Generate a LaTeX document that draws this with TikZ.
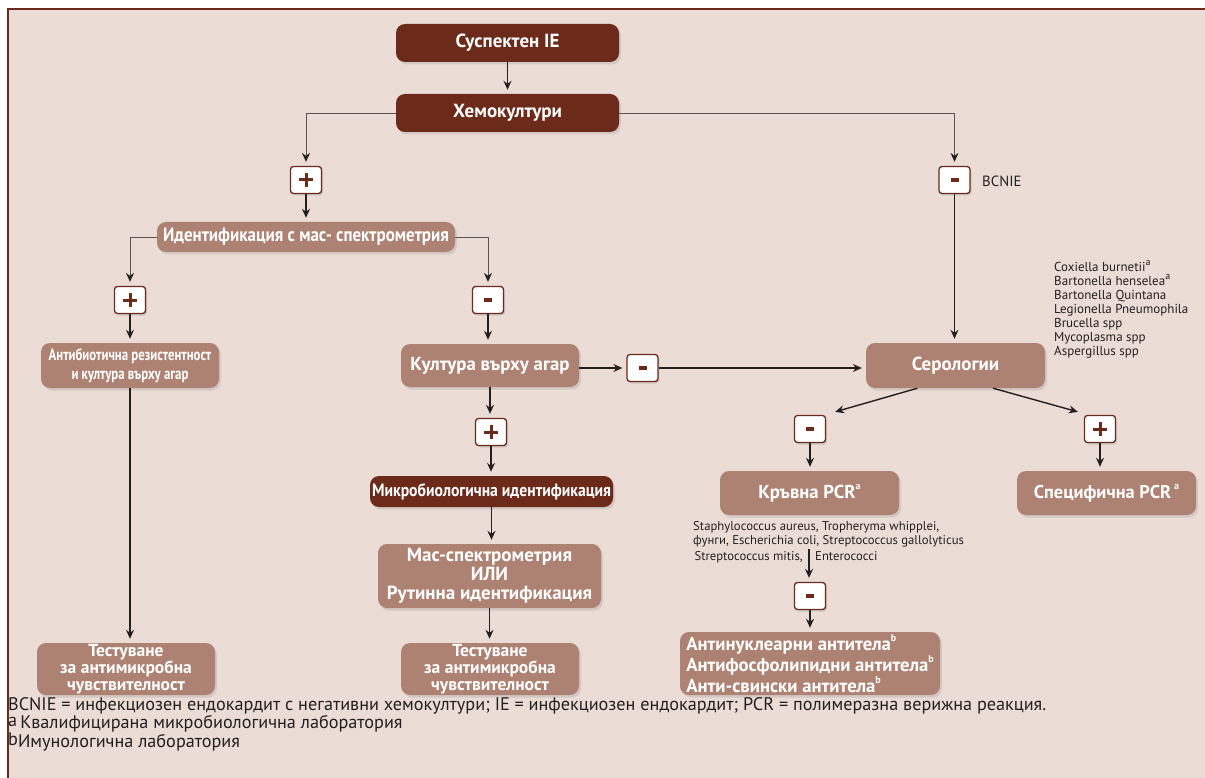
\documentclass[tikz,border=0pt]{standalone}
\usepackage{fontspec}
\setmainfont{PT Sans}
\newfontfamily\cnd[FakeStretch=0.78]{PT Sans}
\newfontfamily\cndb[FakeStretch=0.88]{PT Sans}
\usetikzlibrary{arrows.meta,shadows,calc}
\definecolor{dk}{HTML}{6B2A1A}
\definecolor{lt}{HTML}{AE8272}
\definecolor{bg}{HTML}{EBDDD6}
\definecolor{ink}{HTML}{231F20}
\definecolor{gr}{HTML}{555555}
\newcommand{\upx}[1]{\raisebox{0.5em}{\fontsize{10}{10}\selectfont #1}}
\begin{document}
\begin{tikzpicture}[x=1pt,y=-1pt,
 box/.style={rounded corners=9pt, text=white, align=center, inner sep=0pt,
   drop shadow={shadow xshift=2pt,shadow yshift=-2.5pt,opacity=0.22}},
 dkbox/.style={box, fill=dk},
 ltbox/.style={box, fill=lt},
 sgn/.style={draw=dk, fill=white, line width=1.3pt, rounded corners=3pt,
   minimum width=31pt, minimum height=27pt, inner sep=0pt,
   drop shadow={shadow xshift=1.5pt,shadow yshift=-2pt,opacity=0.25}},
 plusg/.style={sgn, path picture={
   \draw[dk,line width=3pt,sharp corners] ($(path picture bounding box.center)+(-7,0)$) -- ($(path picture bounding box.center)+(7,0)$);
   \draw[dk,line width=3pt,sharp corners] ($(path picture bounding box.center)+(0,-7)$) -- ($(path picture bounding box.center)+(0,7)$);}},
 minusg/.style={sgn, path picture={
   \fill[dk,sharp corners] ($(path picture bounding box.center)+(-4,-2.4)$) rectangle ($(path picture bounding box.center)+(4,2.4)$);}},
 tip/.style={-{Stealth[length=9pt,width=8pt,inset=3pt,color=ink]}, shorten >=4pt},
 arr/.style={draw=ink, line width=1.4pt, tip},
 gline/.style={draw=gr, line width=0.9pt},
 ftxt/.style={text=ink, inner sep=0pt},
 bt/.style={font=\bfseries\fontsize{#1}{#1}\selectfont},
]
\useasboundingbox (0,0) rectangle (1205,778);
\fill[white] (0,0) rectangle (1205,778);
\fill[bg] (8,9) rectangle (1215,790);
\draw[dk, line width=1.6pt] (8,790) -- (8,9) -- (1215,9);

% nodes
\node[dkbox, minimum width=223pt, minimum height=38pt, bt=19] (sus) at (507.5,43) {Суспектен IE};
\node[dkbox, minimum width=223pt, minimum height=38pt, bt=19] (hem) at (507.5,113) {Хемокултури};
\node[plusg] (p1) at (306,180) {};
\node[minusg] (m1) at (954.5,180) {};
\node[ftxt, anchor=west, font=\fontsize{14.8}{16}\selectfont] (bcnie) at (982,181) {BCNIE};
\node[ltbox, minimum width=298pt, minimum height=30pt, font=\cndb\bfseries\fontsize{19.3}{19}\selectfont] (ident) at (306,237) {Идентификация с мас- спектрометрия};
\node[plusg] (p2) at (130,300) {};
\node[minusg] (m2) at (488,300) {};
\node[ltbox, minimum width=178pt, minimum height=45pt, font=\cnd\bfseries\fontsize{16.4}{19}\selectfont] (anti) at (130,365.5) {Антибиотична резистентност\\и култура върху агар};
\node[ltbox, minimum width=178pt, minimum height=43pt, bt=18.8] (kult) at (490,365.5) {Култура върху агар};
\node[minusg] (m3) at (642.5,368) {};
\node[ltbox, minimum width=179pt, minimum height=45pt, bt=18.9] (sero) at (955.5,365.5) {Серологии};
\node[ftxt, anchor=north west, align=left, font=\fontsize{13}{14}\selectfont] (orgs) at (1054,260)
 {Coxiella burnetii\upx{a}\\Bartonella henselea\upx{a}\\Bartonella Quintana\\Legionella Pneumophila\\Brucella spp\\Mycoplasma spp\\Aspergillus spp};
\node[minusg] (m4) at (810,429) {};
\node[plusg] (p4) at (1100,429) {};
\node[ltbox, minimum width=179pt, minimum height=44pt, bt=18.7] (krv) at (809.5,493) {Кръвна PCR\upx{a}};
\node[ltbox, minimum width=179pt, minimum height=44pt, bt=18.4] (spec) at (1106.5,493) {Специфична PCR\,\upx{a}};
\node[plusg] (p3) at (491,432) {};
\node[dkbox, minimum width=243pt, minimum height=31pt, font=\cndb\bfseries\fontsize{17.8}{18}\selectfont] (micro) at (491.5,491.5) {Микробиологична идентификация};
\node[ltbox, minimum width=223pt, minimum height=64pt, font=\bfseries\fontsize{19}{19}\selectfont] (mass) at (489.5,576) {Мас-спектрометрия\\ИЛИ\\Рутинна идентификация};
\node[ltbox, minimum width=178pt, minimum height=52pt, font=\bfseries\fontsize{17.5}{16.2}\selectfont] (test2) at (490,669) {Тестуване\\за антимикробна\\чувствителност};
\node[ltbox, minimum width=178pt, minimum height=52pt, font=\bfseries\fontsize{17.5}{16.2}\selectfont] (test1) at (126,669) {Тестуване\\за антимикробна\\чувствителност};
\node[ftxt, anchor=north west, align=left, font=\fontsize{12.7}{14}\selectfont] (bl1) at (693,521)
 {Staphylococcus aureus, Tropheryma whipplei,\\фунги, Escherichia coli, Streptococcus gallolyticus};
\node[ftxt, anchor=base east, font=\fontsize{12.7}{14}\selectfont] (bl2) at (803,560) {Streptococcus mitis,};
\node[ftxt, anchor=base west, font=\fontsize{12.7}{14}\selectfont] (bl3) at (815,560) {Enterococci};
\coordinate (blx) at (809,549);
\node[minusg] (m5) at (810,596) {};
\node[ltbox, minimum width=260pt, minimum height=63pt, align=left, font=\bfseries\fontsize{18.7}{17.5}\selectfont] (antin) at (810,663.5)
 {Антинуклеарни антитела\upx{b}\\Антифосфолипидни антитела\upx{b}\\Анти-свински антитела\upx{b}};

% connectors
\draw[arr] (sus.south) -- (hem.north);
\draw[gline, tip] (hem.west) -| (p1.north);
\draw[gline, tip] (hem.east) -| (m1.north);
\draw[arr] (p1.south) -- (p1.south |- ident.north);
\draw[gline, tip] (ident.west) -| (p2.north);
\draw[gline, tip] (ident.east) -| (m2.north);
\draw[arr] (p2.south) -- (anti.north);
\draw[arr] (m2.south) -- (m2.south |- kult.north);
\draw[arr] (kult.east |- m3.west) -- (m3.west);
\draw[arr] (m3.east) -- (m3.east -| sero.west);
\draw[arr] (m1.south) -- (m1.south |- sero.north);
\draw[arr, shorten >=0pt] ($(sero.south)+(-38,0)$) -- ($(m4.north east)+(9,-3)$);
\draw[arr, shorten >=0pt] ($(sero.south)+(37.5,0)$) -- ($(p4.north west)+(-6,-3)$);
\draw[arr] (m4.south) -- (m4.south |- krv.north);
\draw[arr] (p4.south) -- (p4.south |- spec.north);
\draw[arr] (kult.south) -- (kult.south |- p3.north);
\draw[arr] (p3.south) -- (p3.south |- micro.north);
\draw[arr] (micro.south) -- (micro.south |- mass.north);
\draw[arr] (mass.south) -- (mass.south |- test2.north);
\draw[arr] (anti.south) -- (anti.south |- test1.north);
\draw[arr] (blx) -- (blx |- m5.north);
\draw[arr] (m5.south) -- (m5.south |- antin.north);

% footer
\node[ftxt, anchor=base west, font=\fontsize{18.2}{18}\selectfont] (f1) at (8,710.5)
 {BCNIE = инфекциозен ендокардит с негативни хемокултури; IE = инфекциозен ендокардит; PCR = полимеразна верижна реакция.};
\node[ftxt, anchor=base west, font=\fontsize{18.2}{18}\selectfont] (f2) at (8,728.5)
 {\raisebox{2pt}{a}\,Квалифицирана микробиологична лаборатория};
\node[ftxt, anchor=base west, font=\fontsize{18.2}{18}\selectfont] (f3) at (8,747.5)
 {\raisebox{2pt}{b}Имунологична лаборатория};
\end{tikzpicture}
\end{document}
